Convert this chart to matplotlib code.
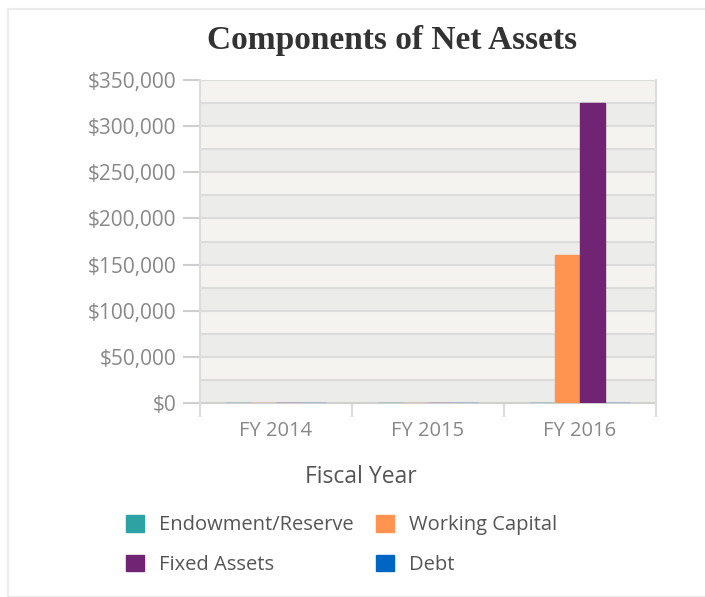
import matplotlib
matplotlib.use('Agg')
import matplotlib.pyplot as plt
import numpy as np
from matplotlib.patches import Rectangle

#=====data
years = ['FY 2014', 'FY 2015', 'FY 2016']
series = ['Endowment/Reserve', 'Working Capital', 'Fixed Assets', 'Debt']
endowment = [0, 0, 0]
working = [0, 0, 160000]
fixed = [0, 0, 325000]
debt = [0, 0, 0]
yticks = [0, 50000, 100000, 150000, 200000, 250000, 300000, 350000]

colors = ['#2ca2a5', '#ff934f', '#702473', '#0066c3']
values = [endowment, working, fixed, debt]

FONT = 'Open Sans'

#=====figure
fig = plt.figure(figsize=(7.05, 5.97), dpi=100)
fig.patches.append(Rectangle((8/705, 0), 1, 1 - 9/597, transform=fig.transFigure,
                             facecolor='white', edgecolor='#ececec', linewidth=1.5,
                             zorder=-10))
ax = fig.add_axes([200/705, 1 - 403/597, 456/705, 323/597])

# alternating bands every 25k
for i in range(14):
    c = '#ecedea' if i % 2 == 0 else '#f4f3ef'
    ax.axhspan(i * 25000, (i + 1) * 25000, color=c, zorder=0, lw=0)
for i in range(1, 15):
    ax.axhline(i * 25000, color='#dcdcdc', lw=1.5, zorder=1)

x = np.arange(len(years))
w = 0.163
for k in range(len(series)):
    ax.bar(x + (k - 1.5) * w, values[k], w, color=colors[k], edgecolor=colors[k],
           linewidth=1, zorder=3, label=series[k])

ax.set_xlim(-0.5, 2.5)
ax.set_ylim(0, 350000)
ax.set_yticks(yticks)
ax.set_yticklabels(['${:,}'.format(v) for v in yticks], fontfamily=FONT,
                   fontsize=15, color='#888888')
ax.set_xticks(x)
ax.set_xticklabels(years, fontfamily=FONT, fontsize=14.5, color='#888888')
ax.set_xticks([-0.5, 0.5, 1.5, 2.5], minor=True)
ax.tick_params(axis='x', which='major', length=0, pad=13)
ax.tick_params(axis='x', which='minor', length=10, width=1.5, color='#dcdcdc')
ax.tick_params(axis='y', length=12, width=1.5, color='#cfcfcf', pad=5)

for s in ['left', 'right']:
    ax.spines[s].set_color('#dcdcdc')
    ax.spines[s].set_linewidth(1.5)
ax.spines['top'].set_visible(False)
ax.spines['bottom'].set_color('#d0d0d0')
ax.spines['bottom'].set_linewidth(1.5)
ax.spines['bottom'].set_zorder(2)

ax.set_xlabel('Fiscal Year', fontfamily=FONT, fontsize=16.5, color='#555555')
ax.xaxis.set_label_coords(161/456, -62/323)

fig.text(392/705, 1 - 40/597, 'Components of Net Assets', ha='center', va='center',
         fontfamily='Liberation Serif', fontweight='bold', fontsize=24, color='#333333')

handles = [Rectangle((0, 0), 1, 1, color=c) for c in colors]
order = [0, 2, 1, 3]
leg = fig.legend([handles[i] for i in order], [series[i] for i in order],
                 loc='upper left', bbox_to_anchor=(108/705, 1 - 497/597), ncol=2,
                 frameon=False, prop={'family': FONT, 'size': 14.5},
                 handlelength=0.9, handleheight=0.9, handletextpad=0.75,
                 columnspacing=1.1, labelspacing=0.95, labelcolor='#555555')

fig.savefig('out.png', dpi=100)
